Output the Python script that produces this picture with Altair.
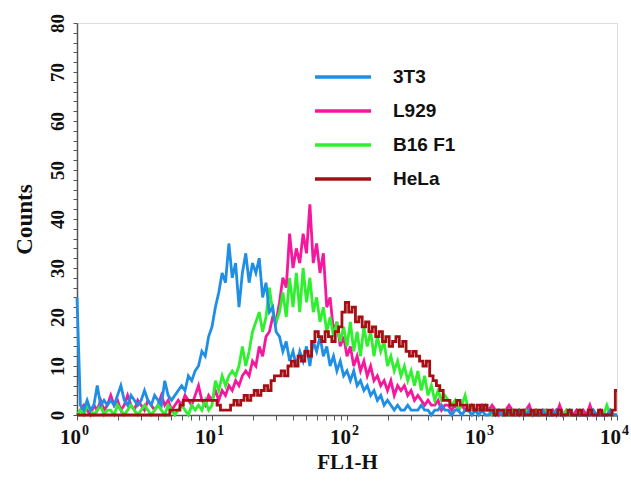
import altair as alt
import pandas as pd

# FL1-H channel grid: 40 channels per decade, 10^0 .. 10^4
log_channel = [i / 40 for i in range(161)]

cell_lines = ["3T3", "L929", "B16 F1", "HeLa"]
line_colors = ["#1f8fe6", "#f5189c", "#2ef02e", "#a50f14"]

counts_3t3 = [
    24, 2, 1, 3, 1, 2, 6, 2, 3, 2,
    3, 2, 4, 6, 3, 2, 4, 3, 2, 3,
    5, 3, 2, 4, 3, 2, 7, 4, 3, 4,
    5, 6, 5, 8, 7, 9, 10, 13, 12, 16,
    18, 22, 25, 29, 27, 35, 28, 31, 22, 29,
    33, 27, 31, 29, 32, 24, 27, 21, 22, 17,
    16, 13, 15, 11, 13, 10, 13, 11, 14, 10,
    15, 13, 16, 12, 14, 10, 12, 9, 11, 8,
    9, 7, 9, 6, 7, 5, 6, 4, 5, 3,
    4, 2, 3, 2, 1, 2, 1, 1, 2, 1,
    1, 1, 2, 1, 1, 0, 1, 1, 2, 1,
    1, 0, 1, 1, 0, 1, 1, 0, 1, 0,
    1, 0, 0, 1, 0, 1, 0, 0, 1, 0,
    0, 1, 0, 0, 1, 0, 0, 0, 1, 0,
    0, 0, 1, 0, 0, 0, 1, 0, 0, 0,
    0, 0, 0, 1, 0, 0, 0, 0, 1, 0,
    0,
]

counts_l929 = [
    0, 1, 2, 1, 0, 2, 1, 3, 1, 2,
    4, 2, 3, 1, 2, 4, 2, 1, 3, 2,
    1, 3, 2, 1, 2, 4, 2, 3, 1, 2,
    3, 2, 4, 3, 2, 4, 6, 3, 2, 4,
    3, 5, 3, 5, 4, 6, 5, 7, 6, 8,
    9, 8, 11, 10, 14, 12, 16, 17, 20, 19,
    23, 28, 26, 37, 30, 34, 31, 37, 33, 43,
    31, 35, 29, 33, 22, 24, 17, 19, 14, 16,
    12, 14, 10, 12, 9, 11, 8, 10, 7, 8,
    6, 7, 5, 7, 4, 6, 5, 6, 4, 5,
    3, 4, 3, 2, 3, 2, 2, 3, 1, 2,
    2, 1, 2, 1, 2, 1, 1, 2, 1, 1,
    2, 1, 1, 2, 1, 0, 1, 1, 2, 1,
    1, 0, 1, 1, 2, 0, 1, 0, 1, 1,
    0, 1, 0, 2, 0, 1, 0, 0, 1, 0,
    1, 0, 2, 0, 0, 1, 0, 0, 1, 0,
    0,
]

counts_b16 = [
    0, 1, 0, 2, 1, 0, 1, 2, 0, 1,
    1, 0, 2, 1, 0, 1, 2, 1, 0, 1,
    2, 1, 0, 1, 2, 1, 0, 2, 1, 0,
    1, 2, 1, 0, 2, 1, 2, 1, 3, 1,
    2, 7, 5, 8, 6, 8, 9, 8, 10, 14,
    10, 13, 17, 19, 21, 17, 20, 26, 21, 19,
    21, 25, 20, 28, 22, 29, 21, 30, 23, 28,
    21, 24, 19, 22, 17, 20, 16, 19, 15, 18,
    14, 19, 13, 17, 12, 18, 14, 17, 12, 16,
    13, 15, 10, 12, 9, 11, 8, 10, 7, 9,
    6, 9, 5, 8, 4, 6, 3, 5, 3, 4,
    3, 2, 3, 1, 2, 4, 1, 2, 1, 1,
    1, 2, 1, 0, 1, 1, 0, 1, 0, 1,
    0, 1, 0, 1, 0, 0, 1, 0, 0, 1,
    0, 0, 1, 0, 0, 1, 0, 0, 0, 1,
    0, 0, 0, 1, 0, 0, 0, 2, 0, 0,
    0,
]

counts_hela = [
    0, 0, 0, 0, 0, 0, 0, 0, 0, 0,
    0, 0, 0, 0, 0, 0, 0, 0, 0, 0,
    0, 0, 0, 0, 0, 0, 0, 0, 1, 1,
    1, 2, 3, 3, 3, 3, 3, 3, 3, 3,
    3, 3, 2, 1, 1, 1, 2, 3, 2, 3,
    4, 3, 4, 5, 4, 5, 6, 5, 7, 8,
    8, 9, 8, 10, 11, 10, 12, 11, 13, 12,
    15, 17, 16, 15, 17, 16, 15, 17, 18, 21,
    23, 21, 22, 19, 20, 18, 19, 17, 18, 16,
    17, 15, 16, 14, 15, 16, 14, 15, 13, 12,
    13, 12, 11, 10, 11, 8, 7, 6, 5, 3,
    3, 2, 2, 3, 2, 2, 1, 2, 1, 2,
    1, 2, 1, 1, 0, 1, 1, 0, 1, 0,
    1, 0, 1, 0, 0, 1, 0, 1, 0, 0,
    1, 0, 0, 1, 0, 0, 1, 0, 0, 1,
    0, 0, 1, 0, 0, 1, 0, 0, 0, 1,
    5,
]

decades = [1, 10, 100, 1000, 10000]
decade_exponents = ["0", "1", "2", "3", "4"]

series = {"3T3": counts_3t3, "L929": counts_l929, "B16 F1": counts_b16, "HeLa": counts_hela}
rows = []
for name, vals in series.items():
    for lg, c in zip(log_channel, vals):
        rows.append({"fl1": 10 ** lg, "count": c, "line": name})
df = pd.DataFrame(rows)

minor_ticks = [m * d for d in decades[:-1] for m in range(1, 10)] + [10000]

W, H = 540, 392
SERIF = "Liberation Serif"

x_scale = alt.Scale(type="log", domain=[1, 10000], nice=False)
y_scale = alt.Scale(domain=[0, 80], nice=False)
color_scale = alt.Scale(domain=cell_lines, range=line_colors)

x_enc = alt.X(
    "fl1:Q", scale=x_scale,
    axis=alt.Axis(values=minor_ticks, labels=False, title="FL1-H", grid=False,
                  tickSize=5, titleFont=SERIF, titleFontSize=21, titleFontWeight="bold",
                  titleColor="#111", titlePadding=31, domainColor="#555", tickColor="#555",
                  domainWidth=1.5),
)
y_enc = alt.Y(
    "count:Q", scale=y_scale,
    axis=alt.Axis(values=list(range(0, 81, 2)),
                  labelExpr="datum.value % 10 == 0 ? datum.label : ''",
                  labelAngle=-90, labelFont=SERIF, labelFontSize=19, labelFontWeight="bold",
                  labelColor="#111", labelPadding=6, tickSize=4, grid=False,
                  title="Counts", titleFont=SERIF, titleFontSize=23, titleFontWeight="bold",
                  titleColor="#111", titlePadding=12, domainColor="#555", tickColor="#555",
                  domainWidth=1.5),
)
color_enc = alt.Color(
    "line:N", scale=color_scale, sort=cell_lines,
    legend=alt.Legend(title=None, orient="none", legendX=236, legendY=37,
                      symbolType="stroke", symbolSize=3136, symbolStrokeWidth=3.5,
                      labelFont="Liberation Sans", labelFontSize=19, labelFontWeight="bold",
                      labelColor="#111", labelOffset=20, clipHeight=34, rowPadding=0),
)

base = alt.Chart(df)
layers = []
for name in ["L929", "B16 F1", "3T3", "HeLa"]:
    layers.append(
        base.transform_filter(alt.datum.line == name)
        .mark_line(strokeWidth=2.8, interpolate="step" if name == "HeLa" else "linear")
        .encode(x=x_enc, y=y_enc, color=color_enc)
    )

tick_df = pd.DataFrame({"fl1": decades, "exp": decade_exponents})
ten_text = alt.Chart(tick_df).mark_text(
    text="10", font=SERIF, fontSize=21, fontWeight="bold", align="right",
    baseline="alphabetic", dx=4, color="#111",
).encode(x=alt.X("fl1:Q", scale=x_scale), y=alt.value(H + 29))
exp_text = alt.Chart(tick_df).mark_text(
    font=SERIF, fontSize=14, fontWeight="bold", align="left",
    baseline="alphabetic", dx=5, color="#111",
).encode(x=alt.X("fl1:Q", scale=x_scale), y=alt.value(H + 20), text="exp:N")

chart = (
    alt.layer(*layers, ten_text, exp_text)
    .properties(width=W, height=H, padding={"left": 77, "top": 23, "right": 14, "bottom": 71},
                autosize=alt.AutoSizeParams(type="none"))
    .configure_view(stroke="#555", strokeWidth=1.5)
    .configure(background="white")
)

chart.save("out.html", embed_options={"renderer": "svg", "actions": False})
